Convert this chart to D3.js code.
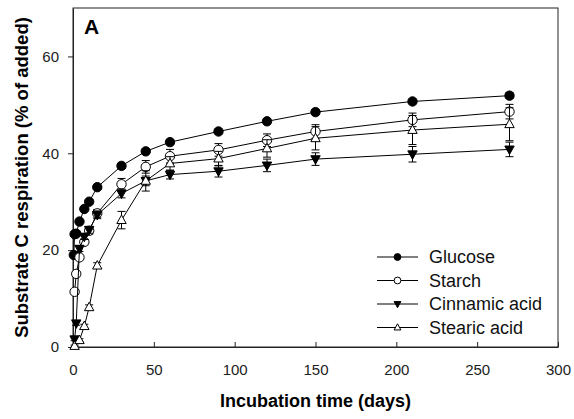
<!DOCTYPE html>
<html>
<head>
<meta charset="utf-8">
<script src="https://cdn.jsdelivr.net/npm/d3@7"></script>
<style>
  body { margin: 0; background: #fff; }
  text { font-family: "Liberation Sans", Arial, sans-serif; }
</style>
</head>
<body>
<svg id="chart" width="574" height="419"></svg>
<script>
// days sampled (shared by all series), null = no point
const days = [0.5, 1, 2, 4, 7, 10, 15, 30, 45, 60, 90, 120, 150, 210, 270];

const glucose = [19.0, 23.3, 23.4, 25.9, 28.5, 30.0, 33.0, 37.4, 40.4, 42.3, 44.5, 46.6, 48.5, 50.7, 51.9];
const glucoseErr = [0.3, 0.3, 0.3, 0.3, 0.3, 0.3, 0.4, 0.5, 0.5, 0.5, 0.5, 0.5, 0.5, 0.5, 0.6];

const starch = [null, 11.4, 15.1, 18.5, 21.7, 24.0, 27.6, 33.6, 37.2, 39.4, 40.7, 42.7, 44.5, 46.9, 48.6];
const starchErr = [0, 0.4, 0.4, 0.5, 0.6, 0.7, 0.8, 1.2, 1.3, 1.4, 1.3, 1.3, 1.4, 1.4, 1.5];

const cinnamic = [null, 1.6, 4.9, 20.3, 22.8, 24.2, 27.3, 31.7, 34.3, 35.6, 36.3, 37.5, 38.8, 39.8, 40.8];
const cinnamicErr = [0, 0.3, 0.4, 0.6, 0.6, 0.7, 0.8, 0.9, 1.0, 0.9, 1.2, 1.3, 1.3, 1.6, 1.5];

const stearic = [null, 0.2, null, 1.4, 4.3, 8.2, 16.8, 26.2, 34.3, 37.9, 38.9, 41.0, 43.1, 44.8, 46.0];
const stearicErr = [0, 0.2, 0, 0.3, 0.4, 0.5, 0.6, 1.8, 2.1, 1.4, 1.5, 1.8, 2.4, 3.0, 3.4];

const seriesNames = ["Glucose", "Starch", "Cinnamic acid", "Stearic acid"];
const xTicks = [0, 50, 100, 150, 200, 250, 300];
const yTicks = [0, 20, 40, 60];

const svg = d3.select("#chart");
const margin = { left: 73, right: 16, top: 8, bottom: 72 };
const width = 574 - margin.left - margin.right;
const height = 419 - margin.top - margin.bottom;

const x = d3.scaleLinear().domain([0, 300]).range([0, width]);
const y = d3.scaleLinear().domain([0, 70]).range([height, 0]);

const g = svg.append("g").attr("transform", `translate(${margin.left},${margin.top})`);

// frame
g.append("rect")
  .attr("width", width).attr("height", height)
  .attr("fill", "none").attr("stroke", "#222").attr("stroke-width", 1);

// x axis, ticks inside
const xAxis = g.append("g")
  .attr("transform", `translate(0,${height})`)
  .call(d3.axisBottom(x).tickValues(xTicks).tickSizeInner(-5).tickSizeOuter(0).tickPadding(17));
// y axis, ticks outside
const yAxis = g.append("g")
  .call(d3.axisLeft(y).tickValues(yTicks).tickSizeInner(5).tickSizeOuter(0).tickPadding(9));

[xAxis, yAxis].forEach((a) => {
  a.select(".domain").attr("stroke", "#222");
  a.selectAll(".tick line").attr("stroke", "#222");
  a.selectAll(".tick text")
    .attr("font-size", 15)
    .attr("fill", "#222")
    .style("font-family", "'Liberation Sans', Arial, sans-serif");
});

// axis titles
svg.append("text")
  .attr("x", margin.left + width / 2).attr("y", 407)
  .attr("text-anchor", "middle")
  .attr("font-size", 18).attr("font-weight", "bold")
  .text("Incubation time (days)");

svg.append("text")
  .attr("transform", `translate(28,${margin.top + height / 2}) rotate(-90)`)
  .attr("text-anchor", "middle")
  .attr("font-size", 18.5).attr("font-weight", "bold")
  .text("Substrate C respiration (% of added)");

svg.append("text")
  .attr("x", 84).attr("y", 34)
  .attr("font-size", 21).attr("font-weight", "bold")
  .text("A");

const series = [
  { name: seriesNames[0], vals: glucose, err: glucoseErr, shape: "circle", fill: "#000" },
  { name: seriesNames[1], vals: starch, err: starchErr, shape: "circle", fill: "#fff" },
  { name: seriesNames[2], vals: cinnamic, err: cinnamicErr, shape: "down", fill: "#000" },
  { name: seriesNames[3], vals: stearic, err: stearicErr, shape: "up", fill: "#fff" }
];

function markerPath(shape, s) {
  if (shape === "circle") return d3.symbol(d3.symbolCircle, s * s * Math.PI)();
  // triangles, half-width s
  const h = s * 1.8;
  if (shape === "up") return `M0,${-h * 0.6}L${s},${h * 0.4}L${-s},${h * 0.4}Z`;
  return `M0,${h * 0.6}L${s},${-h * 0.4}L${-s},${-h * 0.4}Z`;
}

const line = d3.line()
  .x((d) => x(d.t))
  .y((d) => y(d.v));

series.forEach((s) => {
  const pts = days.map((t, i) => ({ t: t, v: s.vals[i], e: s.err[i] })).filter((d) => d.v != null);
  const sg = g.append("g");

  sg.append("path")
    .datum(pts)
    .attr("d", line)
    .attr("fill", "none")
    .attr("stroke", "#000")
    .attr("stroke-width", 1);

  // error bars
  const eb = sg.selectAll(".eb").data(pts.filter((d) => d.e > 0)).enter().append("g");
  eb.append("line")
    .attr("x1", (d) => x(d.t)).attr("x2", (d) => x(d.t))
    .attr("y1", (d) => y(d.v - d.e)).attr("y2", (d) => y(d.v + d.e))
    .attr("stroke", "#000");
  [-1, 1].forEach((sign) => {
    eb.append("line")
      .attr("x1", (d) => x(d.t) - 4).attr("x2", (d) => x(d.t) + 4)
      .attr("y1", (d) => y(d.v + sign * d.e)).attr("y2", (d) => y(d.v + sign * d.e))
      .attr("stroke", "#000");
  });

  sg.selectAll(".pt").data(pts).enter().append("path")
    .attr("transform", (d) => `translate(${x(d.t)},${y(d.v)})`)
    .attr("d", markerPath(s.shape, 4.7))
    .attr("fill", s.fill)
    .attr("stroke", "#000")
    .attr("stroke-width", 1);
});

// legend
const legend = svg.append("g").attr("transform", "translate(377,257)");
series.forEach((s, i) => {
  const row = legend.append("g").attr("transform", `translate(0,${i * 23.5})`);
  row.append("line").attr("x1", 0).attr("x2", 41).attr("y1", 0).attr("y2", 0).attr("stroke", "#000");
  row.append("path")
    .attr("transform", "translate(20.5,0)")
    .attr("d", markerPath(s.shape, 3.4))
    .attr("fill", s.fill).attr("stroke", "#000");
  row.append("text")
    .attr("x", 52).attr("y", 6)
    .attr("font-size", 18).attr("fill", "#111")
    .text(s.name);
});
</script>
</body>
</html>
